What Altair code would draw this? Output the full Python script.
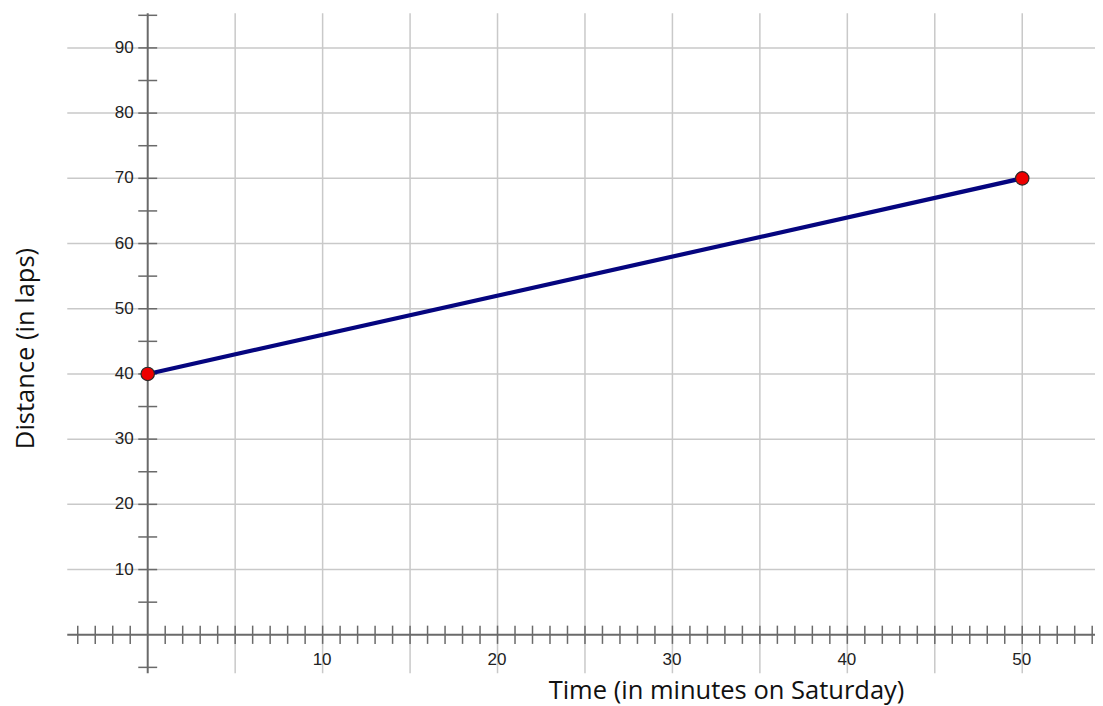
import altair as alt
import pandas as pd

# ---- data ----
time_min = [0, 50]
distance_laps = [40, 70]

x_grid = [5, 10, 15, 20, 25, 30, 35, 40, 45, 50]
y_grid = [10, 20, 30, 40, 50, 60, 70, 80, 90]
x_tick_vals = [v for v in range(-4, 55) if v != 0]
y_tick_vals = [v for v in range(-5, 100, 5) if v != 0]
x_label_vals = [10, 20, 30, 40, 50]
y_label_vals = [10, 20, 30, 40, 50, 60, 70, 80, 90]

x_title = "Time (in minutes on Saturday)"
y_title = "Distance (in laps)"

# ---- scales ----
W, H = 1087, 697
X_DOM = [-7.988, 54.16]
Y_DOM = [-10.77, 96.12]
xs = alt.Scale(domain=X_DOM, nice=False, zero=False)
ys = alt.Scale(domain=Y_DOM, nice=False, zero=False)


def X(f):
    return alt.X(f, type="quantitative", scale=xs, axis=None)


def Y(f):
    return alt.Y(f, type="quantitative", scale=ys, axis=None)


GRID = "#c9c9c9"
AXC = "#6a6a6a"
V_LO, V_HI = -5.9, 95.3
H_LO, H_HI = -4.6, X_DOM[1]

vgrid = alt.Chart(pd.DataFrame({"x": x_grid, "lo": V_LO, "hi": V_HI})).mark_rule(
    color=GRID, strokeWidth=1.5
).encode(x=X("x"), y=Y("lo"), y2="hi")

hgrid = alt.Chart(pd.DataFrame({"y": y_grid, "lo": H_LO, "hi": H_HI})).mark_rule(
    color=GRID, strokeWidth=1.5
).encode(y=Y("y"), x=X("lo"), x2="hi")

yaxis = alt.Chart(pd.DataFrame({"x": [0], "lo": [V_LO], "hi": [V_HI]})).mark_rule(
    color=AXC, strokeWidth=2
).encode(x=X("x"), y=Y("lo"), y2="hi")

xaxis = alt.Chart(pd.DataFrame({"y": [0], "lo": [H_LO], "hi": [H_HI]})).mark_rule(
    color=AXC, strokeWidth=2
).encode(y=Y("y"), x=X("lo"), x2="hi")

yticks = alt.Chart(pd.DataFrame({"y": y_tick_vals, "lo": -0.54, "hi": 0.54})).mark_rule(
    color=AXC, strokeWidth=1.5
).encode(y=Y("y"), x=X("lo"), x2="hi")

xticks = alt.Chart(pd.DataFrame({"x": x_tick_vals, "lo": -1.4, "hi": 1.4})).mark_rule(
    color=AXC, strokeWidth=1.5
).encode(x=X("x"), y=Y("lo"), y2="hi")

ylabels = alt.Chart(pd.DataFrame({"y": y_label_vals, "x": 0})).mark_text(
    align="right", baseline="middle", dx=-14, fontSize=17,
    font="Liberation Sans", color="#222222"
).encode(x=X("x"), y=Y("y"), text=alt.Text("y:Q"))

xlabels = alt.Chart(pd.DataFrame({"x": x_label_vals, "y": 0})).mark_text(
    align="center", baseline="middle", dy=25, dx=-0.5, fontSize=17,
    font="Liberation Sans", color="#222222"
).encode(x=X("x"), y=Y("y"), text=alt.Text("x:Q"))

pts_df = pd.DataFrame({"t": time_min, "d": distance_laps})
line = alt.Chart(pts_df).mark_line(color="#05057f", strokeWidth=4.2).encode(
    x=X("t"), y=Y("d")
)
points = alt.Chart(pts_df).mark_point(
    filled=True, fill="#ee0000", stroke="#2a2a2a", strokeWidth=1.2, size=180,
    opacity=1, shape="circle"
).encode(x=X("t"), y=Y("d"))

xt = alt.Chart(pd.DataFrame({"a": [x_title]})).mark_text(
    fontSize=25.5, font="Open Sans", color="#111111", align="center",
    baseline="alphabetic"
).encode(x=alt.value(718.5), y=alt.value(691), text="a:N")

yt = alt.Chart(pd.DataFrame({"a": [y_title]})).mark_text(
    fontSize=25.5, font="Open Sans", color="#111111", align="center",
    baseline="alphabetic", angle=270
).encode(x=alt.value(26), y=alt.value(340.5), text="a:N")

chart = alt.layer(
    vgrid, hgrid, yaxis, xaxis, yticks, xticks, ylabels, xlabels, line, points, xt, yt
).properties(
    width=W, height=H, autosize=alt.AutoSizeParams(type="none"), padding=0,
    background="white"
).configure_view(stroke=None)

chart.save("out.html", embed_options={"renderer": "svg", "actions": False})
